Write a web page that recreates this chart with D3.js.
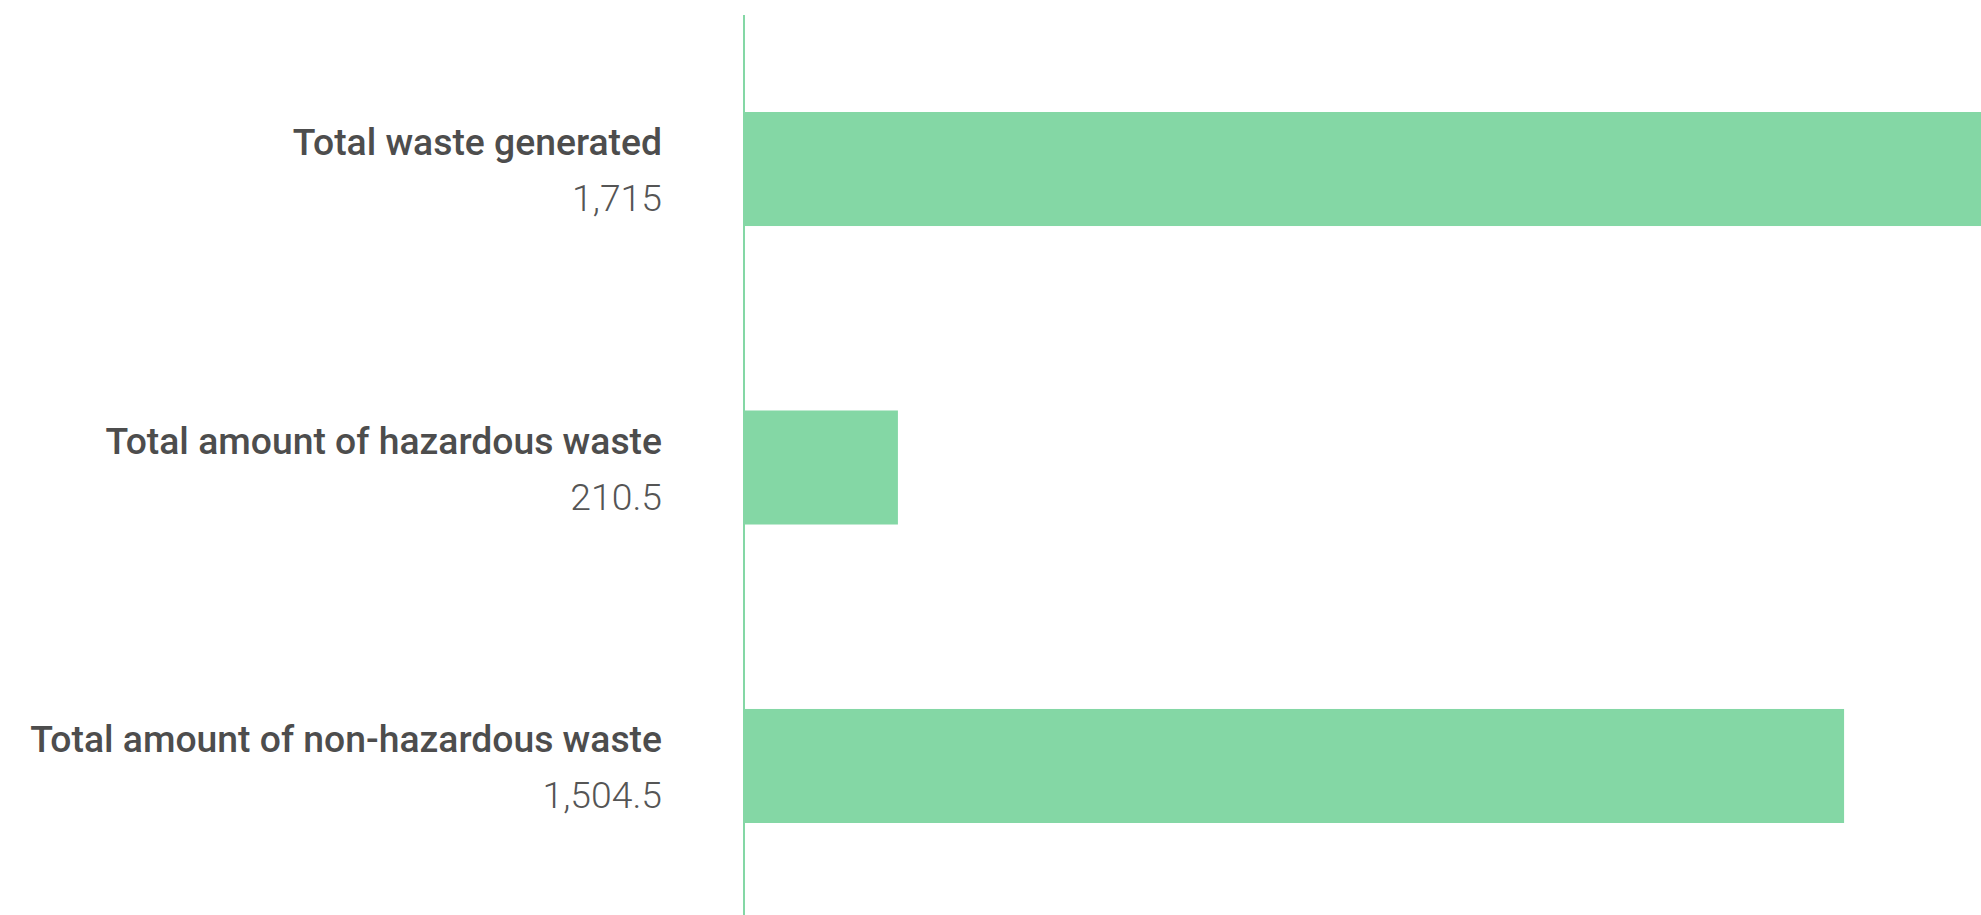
<!DOCTYPE html>
<html>
<head>
<meta charset="utf-8">
<script src="https://cdn.jsdelivr.net/npm/d3@7"></script>
<style>
  html, body { margin: 0; padding: 0; background: #fff; overflow: hidden; }
  svg { display: block; }
</style>
</head>
<body>
<svg id="chart" width="1981" height="915"></svg>
<script>
const categories = ["Total waste generated", "Total amount of hazardous waste", "Total amount of non-hazardous waste"];
const values = [1715, 210.5, 1504.5];
const valueLabels = ["1,715", "210.5", "1,504.5"];

const svg = d3.select("#chart");
const W = 1981, H = 915;

const x = d3.scaleLinear().domain([0, 1715]).range([744, 1998]);
const y = d3.scaleBand().domain(categories).range([15, 920]).paddingInner(0.618).paddingOuter(0.325);

const green = "#84d7a5";

svg.selectAll("rect.bar")
  .data(categories)
  .join("rect")
  .attr("class", "bar")
  .attr("x", x(0))
  .attr("y", d => y(d))
  .attr("width", (d, i) => x(values[i]) - x(0))
  .attr("height", y.bandwidth())
  .attr("fill", green);

svg.append("line")
  .attr("x1", 744).attr("x2", 744)
  .attr("y1", 15).attr("y2", H)
  .attr("stroke", green)
  .attr("stroke-width", 2);

const labelX = 662;
const g = svg.selectAll("g.lbl")
  .data(categories)
  .join("g")
  .attr("class", "lbl")
  .attr("transform", d => `translate(${labelX},${y(d) + y.bandwidth() / 2})`);

g.append("text")
  .attr("text-anchor", "end")
  .attr("y", -14)
  .attr("font-family", "Roboto")
  .attr("font-weight", 500)
  .attr("font-size", 37.3)
  .attr("fill", "#4d4d4d")
  .text(d => d);

g.append("text")
  .attr("text-anchor", "end")
  .attr("y", 42)
  .attr("font-family", "Roboto")
  .attr("font-weight", 300)
  .attr("font-size", 37.3)
  .attr("fill", "#555555")
  .text((d, i) => valueLabels[i]);
</script>
</body>
</html>
